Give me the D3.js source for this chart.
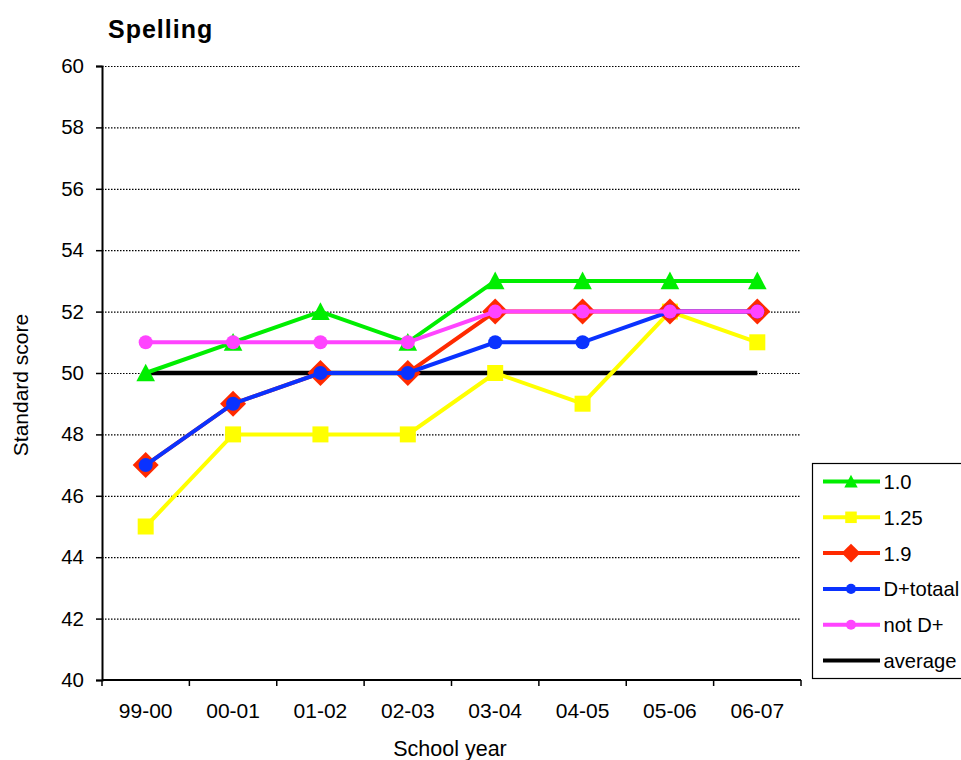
<!DOCTYPE html>
<html>
<head>
<meta charset="utf-8">
<script src="https://cdn.jsdelivr.net/npm/d3@7"></script>
<style>
  body { margin: 0; background: #fff; }
  svg { display: block; font-family: Arial, "Liberation Sans", sans-serif; }
</style>
</head>
<body>
<svg id="chart" width="961" height="760"></svg>
<script>
// School years along the x axis
const years = ["99-00", "00-01", "01-02", "02-03", "03-04", "04-05", "05-06", "06-07"];

// Standard scores per group
const s10      = [50, 51, 52, 51, 53, 53, 53, 53];
const s125     = [45, 48, 48, 48, 50, 49, 52, 51];
const s19      = [47, 49, 50, 50, 52, 52, 52, 52];
const sDtotaal = [47, 49, 50, 50, 51, 51, 52, 52];
const sNotD    = [51, 51, 51, 51, 52, 52, 52, 52];
const sAverage = [50, 50, 50, 50, 50, 50, 50, 50];

const yTicks = [40, 42, 44, 46, 48, 50, 52, 54, 56, 58, 60];

// Series in drawing order (later ones on top)
const series = [
  { name: "average",   values: sAverage, color: "#000000", marker: null },
  { name: "1.0",       values: s10,      color: "#00ee00", marker: "triangle" },
  { name: "1.25",      values: s125,     color: "#ffff00", marker: "square" },
  { name: "1.9",       values: s19,      color: "#ff2a00", marker: "diamond" },
  { name: "D+totaal",  values: sDtotaal, color: "#0a32ff", marker: "circle" },
  { name: "not D+",    values: sNotD,    color: "#ff44ff", marker: "circle" }
];
const legendOrder = ["1.0", "1.25", "1.9", "D+totaal", "not D+", "average"];

const svg = d3.select("#chart");
const plot = { left: 102, right: 801, top: 66, bottom: 680 };

const x = d3.scaleBand().domain(years).range([plot.left, plot.right]);
const y = d3.scaleLinear().domain([40, 60]).range([plot.bottom, plot.top]);
const cx = d => x(d) + x.bandwidth() / 2;

// Dotted horizontal gridlines
svg.append("g")
  .selectAll("line")
  .data(yTicks.filter(t => t > 40))
  .join("line")
  .attr("x1", plot.left).attr("x2", plot.right)
  .attr("y1", d => y(d) + 0.5).attr("y2", d => y(d) + 0.5)
  .attr("stroke", "#000").attr("stroke-width", 1.2)
  .attr("stroke-dasharray", "1.5,1.5");

// Y axis
const yAxis = svg.append("g")
  .attr("transform", `translate(${plot.left},0)`)
  .call(d3.axisLeft(y).tickValues(yTicks).tickSize(6).tickPadding(12));
yAxis.select(".domain").attr("stroke-width", 2);
yAxis.selectAll(".tick line").attr("stroke-width", 1.5);
yAxis.selectAll("text").attr("font-size", 20.5).attr("fill", "#000");

// X axis with ticks between categories
const xAxisG = svg.append("g").attr("transform", `translate(0,${plot.bottom})`);
xAxisG.append("line")
  .attr("x1", plot.left).attr("x2", plot.right)
  .attr("y1", 0).attr("y2", 0)
  .attr("stroke", "#000").attr("stroke-width", 2);
const boundaries = years.map(d => x(d)).concat([plot.right]);
xAxisG.selectAll("line.tk")
  .data(boundaries)
  .join("line").attr("class", "tk")
  .attr("x1", d => d).attr("x2", d => d)
  .attr("y1", 0).attr("y2", 6)
  .attr("stroke", "#000").attr("stroke-width", 1.5);
xAxisG.selectAll("text")
  .data(years)
  .join("text")
  .attr("x", d => cx(d))
  .attr("y", 38)
  .attr("text-anchor", "middle")
  .attr("font-size", 21)
  .text(d => d);

// Axis titles and chart title
svg.append("text")
  .attr("x", 450).attr("y", 756)
  .attr("text-anchor", "middle").attr("font-size", 21.5)
  .text("School year");
svg.append("text")
  .attr("transform", "translate(28,385) rotate(-90)")
  .attr("text-anchor", "middle").attr("font-size", 21)
  .text("Standard score");
svg.append("text")
  .attr("x", 108).attr("y", 38)
  .attr("font-size", 25).attr("font-weight", "bold")
  .attr("letter-spacing", 1)
  .text("Spelling");

// Marker drawing helper
function drawMarker(g, type, color, px, py, scale) {
  const k = scale || 1;
  if (type === "triangle") {
    const h = 9.3 * k;
    g.append("path")
      .attr("d", `M${px},${py - h} L${px + h},${py + h * 0.9} L${px - h},${py + h * 0.9} Z`)
      .attr("fill", color);
  } else if (type === "square") {
    const s = 8 * k;
    g.append("rect")
      .attr("x", px - s).attr("y", py - s)
      .attr("width", 2 * s).attr("height", 2 * s)
      .attr("fill", color);
  } else if (type === "diamond") {
    const s = 13 * k;
    g.append("path")
      .attr("d", `M${px},${py - s} L${px + s},${py} L${px},${py + s} L${px - s},${py} Z`)
      .attr("fill", color);
  } else if (type === "circle") {
    g.append("circle")
      .attr("cx", px).attr("cy", py).attr("r", 7 * k)
      .attr("fill", color);
  }
}

const line = d3.line().x(d => cx(d.year)).y(d => y(d.v));

series.forEach(s => {
  const pts = years.map((yr, i) => ({ year: yr, v: s.values[i] }));
  const g = svg.append("g");
  g.append("path")
    .datum(pts)
    .attr("d", line)
    .attr("fill", "none")
    .attr("stroke", s.color)
    .attr("stroke-width", s.marker ? 4 : 4.5);
  if (s.marker) {
    pts.forEach(p => drawMarker(g, s.marker, s.color, cx(p.year), y(p.v)));
  }
});

// Legend
const lg = svg.append("g");
lg.append("rect")
  .attr("x", 812.5).attr("y", 463.5)
  .attr("width", 160).attr("height", 215)
  .attr("fill", "#fff").attr("stroke", "#000").attr("stroke-width", 1.2);
legendOrder.forEach((name, i) => {
  const s = series.find(d => d.name === name);
  const ly = 481.5 + i * 35.8;
  lg.append("line")
    .attr("x1", 823).attr("x2", 880)
    .attr("y1", ly).attr("y2", ly)
    .attr("stroke", s.color).attr("stroke-width", 4);
  if (s.marker) drawMarker(lg, s.marker, s.color, 851, ly, 0.72);
  lg.append("text")
    .attr("x", 883.5).attr("y", ly + 7.5)
    .attr("font-size", 20.2)
    .text(name);
});
</script>
</body>
</html>
